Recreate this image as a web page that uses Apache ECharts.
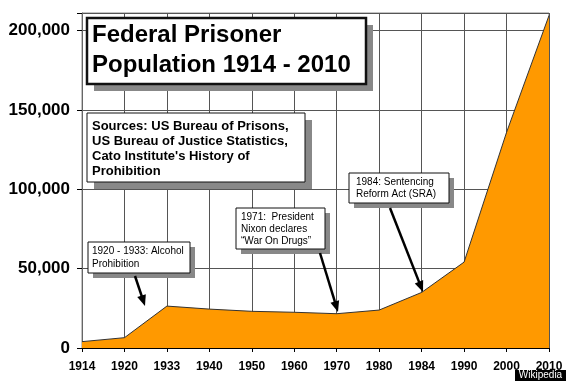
<!DOCTYPE html>
<html><head><meta charset="utf-8">
<script src="https://cdn.jsdelivr.net/npm/echarts@6/dist/echarts.min.js"></script>
<style>html,body{margin:0;padding:0;background:#fff}#c{width:570px;height:381px}</style>
</head><body><div id="c"></div>
<script>
const years = ['1914','1920','1933','1940','1950','1960','1970','1980','1984','1990','2000','2010'];
const prisoners = [4000,6500,26400,24500,23100,22500,21600,23900,35000,54100,135800,209400];
const yTickStep = 50000;
const yMax = 211000;
const titleLines = ['Federal Prisoner','Population 1914 - 2010'];
const sourceLines = ['Sources: US Bureau of Prisons,','US Bureau of Justice Statistics,',"Cato Institute's History of",'Prohibition'];
const note1920 = ['1920 - 1933: Alcohol','Prohibition'];
const note1971 = ['1971:  President','Nixon declares','\u201CWar On Drugs\u201D'];
const note1984 = ['1984: Sentencing','Reform Act (SRA)'];
const badge = 'Wikipedia';

const FF = '"Liberation Sans", Arial, sans-serif';
function box(x,y,w,h,off,lw,lines,font,tx,ty0,dy){
  const els = [
    {type:'rect',shape:{x:x+off,y:y+off,width:w,height:h},style:{fill:'#888'},z:100},
    {type:'rect',shape:{x:x,y:y,width:w,height:h},style:{fill:'#fff',stroke:'#111',lineWidth:lw},z:101}
  ];
  lines.forEach((t,i)=>els.push({type:'text',x:tx,y:ty0+i*dy,z:102,
    style:{text:t,font:font,fill:'#000',textAlign:'left',textVerticalAlign:'middle'}}));
  return els;
}
function arrow(x1,y1,x2,y2){
  const dx=x2-x1, dy=y2-y1, L=Math.hypot(dx,dy), ux=dx/L, uy=dy/L;
  const hl=11, hw=4.5, bx=x2-ux*hl, by=y2-uy*hl;
  return [
    {type:'line',z:103,shape:{x1:x1,y1:y1,x2:bx+ux*2,y2:by+uy*2},style:{stroke:'#000',lineWidth:2.5}},
    {type:'polygon',z:103,shape:{points:[[x2,y2],[bx-uy*hw,by+ux*hw],[bx+uy*hw,by-ux*hw]]},style:{fill:'#000'}}
  ];
}
const graphics = [].concat(
  box(87,18,279,66,7,2.5,titleLines,'bold 24px '+FF,92,35,30),
  box(87,113,218,69,7,1,sourceLines,'bold 13px '+FF,92,126.5,15),
  box(88,242,102,31,5,1,note1920,'10px '+FF,92,251,13),
  box(236,208,89,41,5,1,note1971,'10px '+FF,241,217,12),
  box(349,173,100,30,5,1,note1984,'10px '+FF,356,182,12.5),
  arrow(135,276,145,306),
  arrow(320,253,338,312),
  arrow(390,208,423,292),
  [{type:'rect',z:110,shape:{x:515,y:370,width:51,height:11},style:{fill:'#000'}},
   {type:'text',z:111,x:540.5,y:375.5,style:{text:badge,font:'10px '+FF,fill:'#fff',textAlign:'center',textVerticalAlign:'middle'}}]
);

const chart = echarts.init(document.getElementById('c'),null,{renderer:'canvas'});
chart.setOption({
  backgroundColor:'#fff',
  animation:false,
  grid:{left:82,right:21,top:13,bottom:33,show:true,borderColor:'#888',borderWidth:1,backgroundColor:'#fff'},
  xAxis:{type:'category',data:years,boundaryGap:false,
    axisLine:{lineStyle:{color:'#000',width:1}},
    axisTick:{show:true,length:4,alignWithLabel:true,lineStyle:{color:'#000'}},
    axisLabel:{color:'#000',fontFamily:FF,fontWeight:'bold',fontSize:12,margin:13},
    splitLine:{show:true,lineStyle:{color:'#555',width:1}}},
  yAxis:{type:'value',min:0,max:yMax,interval:yTickStep,
    axisLine:{show:true,lineStyle:{color:'#666'}},
    axisTick:{show:true,length:5,lineStyle:{color:'#000'}},
    axisLabel:{color:'#000',fontFamily:FF,fontWeight:'bold',fontSize:17,margin:12,
      formatter:v=> (v%yTickStep===0 ? v.toLocaleString('en-US') : '')},
    splitLine:{show:true,lineStyle:{color:'#555',width:1}}},
  series:[{type:'line',data:prisoners,symbol:'none',
    lineStyle:{color:'#333',width:1},
    areaStyle:{color:'#FF9900',opacity:1}}],
  graphic:graphics
});
</script></body></html>
